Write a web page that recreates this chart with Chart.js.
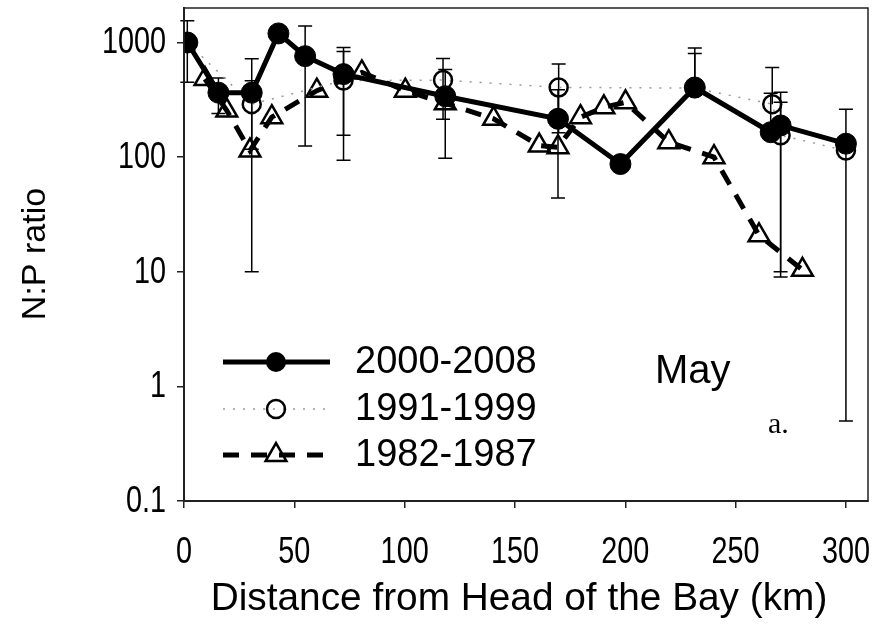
<!DOCTYPE html>
<html>
<head>
<meta charset="utf-8">
<script src="https://cdn.jsdelivr.net/npm/chart.js@4.4.0/dist/chart.umd.min.js"></script>
<style>
  html, body { margin: 0; padding: 0; background: #fff; }
  #wrap { width: 888px; height: 634px; }
</style>
</head>
<body>
<div id="wrap"><canvas id="npChart" width="888" height="634"></canvas></div>
<script>
// distance from head of the bay (km), N:P ratio and error (+/-) per period
const dist2000 = [1.5, 15.6, 30.7, 42.8, 54.9, 72.3, 118.4, 169.5, 197.8, 231.5, 265.9, 270.4, 300];
const np2000   = [1000, 365, 365, 1200, 760, 530, 340, 216, 87, 405, 165, 189, 131];
const err2000  = [550, 125, 355, null, 635, 375, 242, 172, null, 490, 195, 179, 130.5];

const dist1991 = [1.5, 30.7, 72.3, 117.4, 169.8, 231.5, 266.6, 270.4, 300];
const np1991   = [1000, 290, 465, 470, 406, 400, 290, 155, 114];
const err1991  = [null, 173, 371, 256, 243, 400, 315, 146, null];

const dist1982 = [9.5, 19.4, 29.9, 39.8, 60.2, 80.6, 100.3, 118.4, 140.3, 161, 169.5, 179.7, 190.3, 200.1, 219.7, 240.2, 260.6, 280.3];
const np1982   = [480, 255, 114, 223, 380, 548, 380, 295, 216, 126, 122, 223, 272, 301, 135, 100, 20.8, 10.4];

const xTicks = [0, 50, 100, 150, 200, 250, 300];
const yTicks = [0.1, 1, 10, 100, 1000];
const labels = ['2000-2008', '1991-1999', '1982-1987'];

const SANS = '"Liberation Sans", Arial, sans-serif';

function pts(xs, ys) {
  return xs.map((x, i) => ({ x: x, y: ys[i] }));
}

// narrow text like the original export
function narrowText(ctx, txt, x, y, align) {
  const k = 0.8;
  const w = ctx.measureText(txt).width * k;
  let left = x;
  if (align === 'center') left = x - w / 2;
  if (align === 'right') left = x - w;
  ctx.save();
  ctx.translate(left, y);
  ctx.scale(k, 1);
  ctx.textAlign = 'left';
  ctx.fillText(txt, 0, 0);
  ctx.restore();
}

// error bars, drawn under the markers
const errorBars = {
  id: 'errorBars',
  beforeDatasetsDraw(chart) {
    const ctx = chart.ctx;
    const xs = chart.scales.x, ys = chart.scales.y;
    const sets = [[dist2000, np2000, err2000], [dist1991, np1991, err1991]];
    ctx.save();
    ctx.strokeStyle = '#000';
    ctx.lineWidth = 1.5;
    sets.forEach(s => {
      s[0].forEach((d, i) => {
        const e = s[2][i];
        if (e == null) return;
        const px = xs.getPixelForValue(d);
        const py = ys.getPixelForValue(s[1][i]);
        const top = ys.getPixelForValue(s[1][i] + e);
        ctx.beginPath();
        ctx.moveTo(px, py); ctx.lineTo(px, top);
        ctx.moveTo(px - 7, top); ctx.lineTo(px + 7, top);
        const lo = s[1][i] - e;
        if (lo > 0) {
          const bot = ys.getPixelForValue(lo);
          ctx.moveTo(px, py); ctx.lineTo(px, bot);
          ctx.moveTo(px - 7, bot); ctx.lineTo(px + 7, bot);
        }
        ctx.stroke();
      });
    });
    ctx.restore();
  }
};

// frame, tick labels, titles, legend and notes
const extras = {
  id: 'extras',
  afterDraw(chart) {
    const ctx = chart.ctx;
    const a = chart.chartArea;
    const xs = chart.scales.x, ys = chart.scales.y;
    ctx.save();
    ctx.strokeStyle = '#222';
    ctx.lineWidth = 1.5;
    ctx.strokeRect(a.left, a.top, a.right - a.left, a.bottom - a.top);

    ctx.fillStyle = '#000';
    ctx.font = '36px ' + SANS;
    ctx.textBaseline = 'middle';
    xTicks.forEach(v => narrowText(ctx, String(v), xs.getPixelForValue(v), 553, 'center'));
    yTicks.forEach(v => narrowText(ctx, String(v), 166, ys.getPixelForValue(v) + 1, 'right'));

    ctx.font = '38.8px ' + SANS;
    ctx.textAlign = 'center';
    ctx.fillText('Distance from Head of the Bay (km)', 519, 599);
    ctx.save();
    ctx.translate(36, 254);
    ctx.rotate(-Math.PI / 2);
    ctx.font = '34px ' + SANS;
    ctx.fillText('N:P ratio', 0, 0);
    ctx.restore();

    const rows = [362, 409, 455];
    const x0 = 223, x1 = 330, mx = 276;
    ctx.lineCap = 'butt';
    rows.forEach((y, i) => {
      ctx.beginPath();
      if (i === 0) { ctx.setLineDash([]); ctx.strokeStyle = '#000'; ctx.lineWidth = 5; }
      if (i === 1) { ctx.setLineDash([2, 8]); ctx.strokeStyle = '#999'; ctx.lineWidth = 1.5; }
      if (i === 2) { ctx.setLineDash([16, 12]); ctx.strokeStyle = '#000'; ctx.lineWidth = 5; }
      ctx.moveTo(x0, y); ctx.lineTo(x1, y);
      ctx.stroke();
      ctx.setLineDash([]);
      ctx.lineWidth = 2.5;
      ctx.strokeStyle = '#000';
      ctx.beginPath();
      if (i === 0) { ctx.fillStyle = '#000'; ctx.arc(mx, y, 10, 0, Math.PI * 2); ctx.fill(); }
      if (i === 1) { ctx.arc(mx, y, 9, 0, Math.PI * 2); ctx.stroke(); }
      if (i === 2) {
        const r = 12;
        ctx.moveTo(mx, y - r);
        ctx.lineTo(mx + r * 0.866, y + r * 0.5);
        ctx.lineTo(mx - r * 0.866, y + r * 0.5);
        ctx.closePath(); ctx.stroke();
      }
      ctx.fillStyle = '#000';
      ctx.font = '38px ' + SANS;
      ctx.textBaseline = 'middle';
      ctx.textAlign = 'left';
      ctx.fillText(labels[i], 355, y + 1);
    });
    ctx.font = '40px ' + SANS;
    ctx.fillText('May', 655, 372);
    ctx.font = '30px "Liberation Serif", "Times New Roman", serif';
    ctx.textBaseline = 'alphabetic';
    ctx.fillText('a.', 768, 433);
    ctx.restore();
  }
};

new Chart(document.getElementById('npChart'), {
  type: 'line',
  data: {
    datasets: [
      {
        label: labels[0],
        data: pts(dist2000, np2000),
        borderColor: '#000', borderWidth: 5,
        pointStyle: 'circle', pointRadius: 10.5,
        pointBackgroundColor: '#000', pointBorderColor: '#000', pointBorderWidth: 1
      },
      {
        label: labels[1],
        data: pts(dist1991, np1991),
        borderColor: '#999', borderWidth: 1.5, borderDash: [2, 8],
        pointStyle: 'circle', pointRadius: 9,
        pointBackgroundColor: 'rgba(0,0,0,0)', pointBorderColor: '#000', pointBorderWidth: 2.5
      },
      {
        label: labels[2],
        data: pts(dist1982, np1982),
        borderColor: '#000', borderWidth: 5, borderDash: [16, 12],
        pointStyle: 'triangle', pointRadius: 12,
        pointBackgroundColor: 'rgba(0,0,0,0)', pointBorderColor: '#000', pointBorderWidth: 2.5
      }
    ]
  },
  options: {
    responsive: false,
    animation: false,
    layout: { autoPadding: false, padding: { top: 8, right: 20, left: 0, bottom: 0 } },
    plugins: { legend: { display: false }, tooltip: { enabled: false } },
    scales: {
      x: {
        type: 'linear', min: 0, max: 310,
        afterBuildTicks: s => { s.ticks = xTicks.map(v => ({ value: v })); },
        afterFit: s => { s.height = 133; s.paddingLeft = 0; s.paddingRight = 0; },
        grid: { drawOnChartArea: false, drawTicks: true, tickLength: 7, color: '#222', lineWidth: 1.5 },
        border: { display: true, color: '#222', width: 2 },
        ticks: { display: false },
        title: { display: false }
      },
      y: {
        type: 'logarithmic', min: 0.1, max: 2000,
        afterBuildTicks: s => { s.ticks = yTicks.map(v => ({ value: v })); },
        afterFit: s => { s.width = 184; s.paddingTop = 0; s.paddingBottom = 0; },
        grid: { drawOnChartArea: false, drawTicks: true, tickLength: 7, color: '#222', lineWidth: 1.5 },
        border: { display: true, color: '#222', width: 2 },
        ticks: { display: false },
        title: { display: false }
      }
    }
  },
  plugins: [errorBars, extras]
});
</script>
</body>
</html>
